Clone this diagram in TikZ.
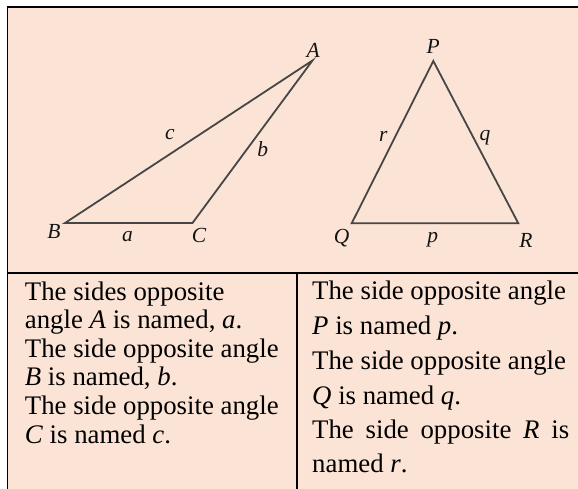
\documentclass[tikz,border=0pt]{standalone}
\usepackage{fontspec}
\setmainfont{Liberation Serif}
\definecolor{peach}{RGB}{251,228,213}
\definecolor{edge}{RGB}{70,70,70}
\begin{document}
\begin{tikzpicture}[x=1pt,y=-1pt,
  side/.style={draw=edge,line width=1.8pt,line join=miter},
  vlabel/.style={font=\fontsize{21.5}{21.5}\selectfont\itshape,inner sep=0pt,text=black!92},
  txt/.style={font=\fontsize{26.8}{30}\selectfont,anchor=base west,inner sep=0pt},
  rule/.style={line width=2pt,black}]
\useasboundingbox (0,0) rectangle (578,489);
\fill[white] (0,0) rectangle (578,489);
\fill[peach] (7.3,6.7) rectangle (578,489);
\draw[rule] (6.5,6.7) -- (578,6.7);
\draw[line width=1.6pt] (7.3,6) -- (7.3,489);
\draw[rule] (6.5,273) -- (578,273);
\draw[rule] (297,273) -- (297,489);
% left triangle
\coordinate (A) at (312.5,60.5);
\coordinate (B) at (65,223);
\coordinate (C) at (192.5,223);
\draw[side] (A) -- (B) -- (C) -- cycle;
% right triangle
\coordinate (P) at (433.3,61);
\coordinate (Q) at (351.7,223.3);
\coordinate (R) at (518.3,223.3);
\draw[side] (P) -- (Q) -- (R) -- cycle;
% vertex and side labels
\node[vlabel] (lA) at (313.3,50) {A};
\node[vlabel] (lB) at (54,231) {B};
\node[vlabel] (lC) at (199,235) {C};
\node[vlabel] (la) at (127.5,237) {a};
\node[vlabel] (lb) at (262.7,149) {b};
\node[vlabel] (lc) at (170,135) {c};
\node[vlabel] (lP) at (433.3,46.7) {P};
\node[vlabel] (lQ) at (341.7,238.3) {Q};
\node[vlabel] (lR) at (526,240) {R};
\node[vlabel] (lp) at (432.7,240) {p};
\node[vlabel] (lq) at (485,138) {q};
\node[vlabel] (lr) at (383.3,136.7) {r};
% left column text
\node[txt] (t1) at (24.7,300) {The sides opposite};
\node[txt] (t2) at (24.7,328.6) {angle \textit{A} is named, \textit{a}.};
\node[txt] (t3) at (24.7,357.2) {The side opposite angle};
\node[txt] (t4) at (24.7,385.8) {\textit{B} is named, \textit{b}.};
\node[txt] (t5) at (24.7,414.4) {The side opposite angle};
\node[txt] (t6) at (24.7,443) {\textit{C} is named \textit{c}.};
% right column text
\node[txt] (u1) at (312,299) {The side opposite angle};
\node[txt] (u2) at (312,334) {\textit{P} is named \textit{p}.};
\node[txt] (u3) at (312,369) {The side opposite angle};
\node[txt] (u4) at (312,404) {\textit{Q} is named \textit{q}.};
\node[txt] (u5) at (312,438) {\makebox[257pt][s]{The side opposite \textit{R} is}};
\node[txt] (u6) at (312,472) {named \textit{r}.};
\end{tikzpicture}
\end{document}
